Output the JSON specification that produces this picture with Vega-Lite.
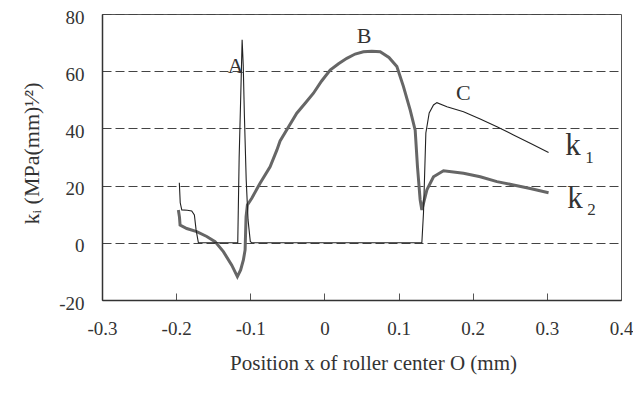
{
  "$schema": "https://vega.github.io/schema/vega-lite/v6.json",
  "width": 519,
  "height": 286,
  "autosize": "none",
  "padding": {"left": 102, "top": 14, "right": 12, "bottom": 97},
  "config": {
    "font": "Liberation Serif",
    "view": {"stroke": "#555", "strokeWidth": 1},
    "text": {"font": "Liberation Serif", "color": "#333"}
  },
  "datasets": {
    "curves": [
      {"s": "k2", "x": -0.197, "y": 11.5}, {"s": "k2", "x": -0.1955, "y": 9}, {"s": "k2", "x": -0.1947, "y": 6.2},
      {"s": "k2", "x": -0.1857, "y": 5.0}, {"s": "k2", "x": -0.1722, "y": 3.9}, {"s": "k2", "x": -0.1587, "y": 2.2},
      {"s": "k2", "x": -0.1475, "y": 0.4}, {"s": "k2", "x": -0.1363, "y": -3.1}, {"s": "k2", "x": -0.125, "y": -7.8},
      {"s": "k2", "x": -0.1174, "y": -11.8}, {"s": "k2", "x": -0.113, "y": -9.5}, {"s": "k2", "x": -0.1093, "y": -6.0},
      {"s": "k2", "x": -0.107, "y": -2.5}, {"s": "k2", "x": -0.1057, "y": 9.1}, {"s": "k2", "x": -0.1039, "y": 13.2},
      {"s": "k2", "x": -0.098, "y": 15.6}, {"s": "k2", "x": -0.0868, "y": 20.8}, {"s": "k2", "x": -0.0733, "y": 26.6},
      {"s": "k2", "x": -0.0642, "y": 32.4}, {"s": "k2", "x": -0.0598, "y": 35.6}, {"s": "k2", "x": -0.0485, "y": 40.5},
      {"s": "k2", "x": -0.0373, "y": 45.3}, {"s": "k2", "x": -0.026, "y": 48.8}, {"s": "k2", "x": -0.0148, "y": 52.3},
      {"s": "k2", "x": -0.004, "y": 56.5}, {"s": "k2", "x": 0.0077, "y": 60.4}, {"s": "k2", "x": 0.019, "y": 62.6},
      {"s": "k2", "x": 0.0302, "y": 64.5}, {"s": "k2", "x": 0.0414, "y": 66.0}, {"s": "k2", "x": 0.0526, "y": 66.8},
      {"s": "k2", "x": 0.064, "y": 67.0}, {"s": "k2", "x": 0.0752, "y": 66.8}, {"s": "k2", "x": 0.087, "y": 64.8},
      {"s": "k2", "x": 0.0977, "y": 61.6}, {"s": "k2", "x": 0.1066, "y": 54.6}, {"s": "k2", "x": 0.1157, "y": 46.4},
      {"s": "k2", "x": 0.1224, "y": 39.4}, {"s": "k2", "x": 0.1255, "y": 26.6}, {"s": "k2", "x": 0.1291, "y": 15.0},
      {"s": "k2", "x": 0.1314, "y": 11.5}, {"s": "k2", "x": 0.1382, "y": 18.5}, {"s": "k2", "x": 0.1471, "y": 23.1},
      {"s": "k2", "x": 0.1606, "y": 25.2}, {"s": "k2", "x": 0.1876, "y": 24.3}, {"s": "k2", "x": 0.2101, "y": 23.1},
      {"s": "k2", "x": 0.2327, "y": 21.4}, {"s": "k2", "x": 0.255, "y": 20.2}, {"s": "k2", "x": 0.2776, "y": 19.0},
      {"s": "k2", "x": 0.3023, "y": 17.5},
      {"s": "k1", "x": -0.1957, "y": 21.0}, {"s": "k1", "x": -0.1945, "y": 14}, {"s": "k1", "x": -0.1924, "y": 11.5},
      {"s": "k1", "x": -0.185, "y": 11.4}, {"s": "k1", "x": -0.179, "y": 11.1}, {"s": "k1", "x": -0.1754, "y": 9.7},
      {"s": "k1", "x": -0.1731, "y": 4.5}, {"s": "k1", "x": -0.17, "y": 0}, {"s": "k1", "x": -0.1169, "y": 0},
      {"s": "k1", "x": -0.115, "y": 30}, {"s": "k1", "x": -0.113, "y": 50}, {"s": "k1", "x": -0.111, "y": 71},
      {"s": "k1", "x": -0.1095, "y": 62}, {"s": "k1", "x": -0.108, "y": 45}, {"s": "k1", "x": -0.1055, "y": 22},
      {"s": "k1", "x": -0.103, "y": 8}, {"s": "k1", "x": -0.1, "y": 0.5}, {"s": "k1", "x": -0.098, "y": 0},
      {"s": "k1", "x": 0.1314, "y": 0}, {"s": "k1", "x": 0.1336, "y": 10.4}, {"s": "k1", "x": 0.1368, "y": 38.4},
      {"s": "k1", "x": 0.1413, "y": 45.4}, {"s": "k1", "x": 0.1471, "y": 48.2}, {"s": "k1", "x": 0.1517, "y": 49.0},
      {"s": "k1", "x": 0.1652, "y": 47.6}, {"s": "k1", "x": 0.1876, "y": 45.8}, {"s": "k1", "x": 0.2101, "y": 43.3},
      {"s": "k1", "x": 0.2327, "y": 40.6}, {"s": "k1", "x": 0.255, "y": 37.7}, {"s": "k1", "x": 0.2776, "y": 34.8},
      {"s": "k1", "x": 0.3023, "y": 31.6}
    ],
    "letters": [
      {"x": -0.1198, "y": 59.4, "label": "A"},
      {"x": 0.0536, "y": 69.9, "label": "B"},
      {"x": 0.1872, "y": 49.9, "label": "C"}
    ],
    "kl": [
      {"x": 0.3248, "y": 30.7, "label": "k"},
      {"x": 0.3275, "y": 12.2, "label": "k"}
    ],
    "ksub": [
      {"x": 0.3518, "y": 27.9, "label": "1"},
      {"x": 0.3545, "y": 9.7, "label": "2"}
    ]
  },
  "layer": [
    {
      "data": {"name": "curves"},
      "transform": [{"filter": "datum.s === 'k2'"}],
      "mark": {"type": "line", "color": "#666666", "strokeWidth": 3},
      "encoding": {
        "x": {
          "field": "x", "type": "quantitative",
          "scale": {"domain": [-0.3, 0.4], "nice": false, "zero": false},
          "axis": {
            "values": [-0.3, -0.2, -0.1, 0, 0.1, 0.2, 0.3, 0.4],
            "format": "~g",
            "labelExpr": "replace(datum.label, '\u2212', '-')",
            "grid": false,
            "tickSize": -7,
            "tickColor": "#555",
            "labelPadding": 26,
            "labelFontSize": 19,
            "labelColor": "#333",
            "labelFlush": false,
            "labelOverlap": false,
            "domainColor": "#333",
            "domainWidth": 1.5,
            "title": "Position x of roller center O (mm)",
            "titleFontSize": 21,
            "titleFontWeight": "normal",
            "titleColor": "#333",
            "titleX": 271,
            "titleY": 63,
            "titleBaseline": "middle",
            "titleAlign": "center"
          }
        },
        "y": {
          "field": "y", "type": "quantitative",
          "scale": {"domain": [-20, 80], "nice": false, "zero": false},
          "axis": {
            "values": [-20, 0, 20, 40, 60, 80],
            "labelExpr": "replace(datum.label, '\u2212', '-')",
            "grid": true,
            "gridDash": [9, 4],
            "gridColor": "#444",
            "gridOpacity": 1,
            "ticks": false,
            "labelPadding": 18,
            "labelFontSize": 19,
            "labelColor": "#333",
            "labelFlush": false,
            "labelOffset": 3,
            "domainColor": "#333",
            "domainWidth": 1.5,
            "title": "k\u1d62 (MPa(mm)\u00b9\u2044\u00b2)",
            "titleFontSize": 22,
            "titleFontWeight": "normal",
            "titleColor": "#333",
            "titleX": -71,
            "titleY": 139,
            "titleAngle": -90,
            "titleBaseline": "middle",
            "titleAlign": "center"
          }
        }
      }
    },
    {
      "data": {"name": "curves"},
      "transform": [{"filter": "datum.s === 'k1'"}],
      "mark": {"type": "line", "color": "#222", "strokeWidth": 1.1},
      "encoding": {
        "x": {"field": "x", "type": "quantitative"},
        "y": {"field": "y", "type": "quantitative"}
      }
    },
    {
      "data": {"name": "letters"},
      "mark": {"type": "text", "fontSize": 22, "align": "center", "baseline": "alphabetic", "color": "#333"},
      "encoding": {
        "x": {"field": "x", "type": "quantitative"},
        "y": {"field": "y", "type": "quantitative"},
        "text": {"field": "label"}
      }
    },
    {
      "data": {"name": "kl"},
      "mark": {"type": "text", "fontSize": 31, "align": "left", "baseline": "alphabetic", "color": "#333"},
      "encoding": {
        "x": {"field": "x", "type": "quantitative"},
        "y": {"field": "y", "type": "quantitative"},
        "text": {"field": "label"}
      }
    },
    {
      "data": {"name": "ksub"},
      "mark": {"type": "text", "fontSize": 17, "align": "left", "baseline": "alphabetic", "color": "#333"},
      "encoding": {
        "x": {"field": "x", "type": "quantitative"},
        "y": {"field": "y", "type": "quantitative"},
        "text": {"field": "label"}
      }
    }
  ]
}
